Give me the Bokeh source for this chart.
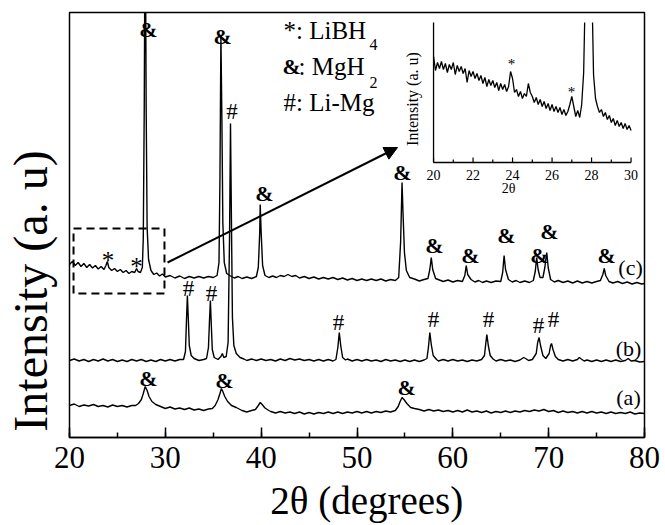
import numpy as np
from math import pi
from bokeh.plotting import figure
from bokeh.models import Range1d, SingleIntervalTicker, FixedTicker, Arrow, NormalHead
from bokeh.core.properties import value
from bokeh.embed import file_html
from bokeh.resources import INLINE

# ---------------- data (intensity in arbitrary units) -------------
curve_a = [
(20.0,32),(20.5,33.5),(21.0,31),(21.5,32.5),(22.0,31.5),(22.5,33),(23.0,31),(23.5,32),(24.0,30.5),(24.5,32.5),
(25.0,31),(25.5,32),(26.0,30.5),(26.5,32),(26.9,32),(27.2,34),(27.5,38),(27.7,44),(27.9,51),(28.1,47),(28.3,41),
(28.6,36),(29.0,33),(29.5,31),(30.0,29),(30.5,30.5),(31.0,28.5),(31.5,29.5),(32.0,28),(32.5,29.5),(33.0,27.5),
(33.5,28.5),(34.0,27),(34.5,28.5),(34.9,29),(35.2,32),(35.5,38),(35.7,44),(35.85,49),(36.0,46),(36.2,41),(36.5,36),
(36.9,32),(37.4,30),(38.0,27),(38.5,25.5),(39.0,27),(39.4,28),(39.7,32),(39.9,35),(40.1,33),(40.4,29.5),(40.8,27),
(41.0,26),(41.5,24.5),(42.0,26),(42.5,24.5),(43.0,25.5),(43.5,24),(44.0,25.5),(44.5,23.5),(45.0,25),(45.5,23.5),
(46.0,25),(46.5,24),(47.0,25.5),(47.5,24),(48.0,25.5),(48.5,24),(49.0,25.5),(49.5,24.5),(50.0,26),(50.5,24.5),
(51.0,26),(51.5,24.5),(52.0,26),(52.5,25),(53.0,26.5),(53.5,25.5),(54.0,27),(54.3,31),(54.5,36),(54.7,40),(54.9,38),
(55.2,34),(55.6,30),(56.0,29),(56.5,28),(57.0,26.5),(57.5,28),(58.0,26.5),(58.5,27.5),(59.0,26),(59.5,27),(60.0,25.5),
(60.5,27),(61.0,25.5),(61.5,27.5),(62.0,25.5),(62.5,26.5),(63.0,25),(63.5,26.5),(64.0,24.5),(64.5,26),(65.0,25),
(65.5,26.5),(66.0,25),(66.5,26.5),(67.0,25.5),(67.5,27),(68.0,26),(68.5,27.5),(69.0,26.5),(69.5,28),(70.0,26),
(70.5,27),(71.0,25),(71.5,26.5),(72.0,25),(72.5,26),(73.0,24.5),(73.5,26),(74.0,24.5),(74.5,26),(75.0,24.5),
(75.5,25.5),(76.0,24),(76.5,25.5),(77.0,24),(77.5,25),(78.0,24),(78.5,25.5),(79.0,23.5),(79.5,24.5),(80.0,24)]

curve_b = [
(20.0,77),(20.5,78.5),(21.0,76.5),(21.5,78),(22.0,76),(22.5,78),(23.0,76.5),(23.5,78.5),(24.0,76.5),(24.5,78),
(25.0,76),(25.5,77.5),(26.0,76),(26.5,78),(27.0,76.5),(27.5,78),(28.0,76),(28.5,77.5),(29.0,76),(29.5,78),
(30.0,76.5),(30.5,78),(31.0,76.5),(31.5,78),(31.9,78),(32.1,86),(32.2,115),(32.3,142),(32.4,118),(32.5,92),
(32.7,82),(33.0,79),(33.5,77),(34.0,78),(34.3,79),(34.5,90),(34.6,115),(34.7,137),(34.8,112),(34.9,88),(35.1,80),
(35.5,78),(35.8,81),(35.95,84),(36.1,80),(36.35,81),(36.55,95),(36.7,200),(36.8,314),(36.9,215),(37.0,120),
(37.15,92),(37.4,84),(37.8,80),(38.2,78.5),(38.5,77),(39.0,78.5),(39.5,77),(40.0,78.5),(40.5,77),(41.0,78),
(41.5,76.5),(42.0,78.5),(42.5,77),(43.0,79),(43.5,77.5),(44.0,78.5),(44.5,77),(45.0,78),(45.5,76.5),(46.0,78),
(46.5,76.5),(47.0,78),(47.5,76.5),(47.8,78),(48.0,90),(48.15,105),(48.3,92),(48.5,80),(48.8,77.5),(49.0,78.5),
(49.5,76.5),(50.0,78),(50.5,76.5),(51.0,78),(51.5,76.5),(52.0,77.5),(52.5,76),(53.0,78),(53.5,76.5),(54.0,77.5),
(54.5,76),(55.0,77.5),(55.5,76),(56.0,77.5),(56.5,76),(57.0,77.5),(57.3,79),(57.45,90),(57.6,105),(57.75,93),
(57.95,82),(58.3,78),(58.5,76.5),(59.0,78),(59.5,76.5),(60.0,78),(60.5,76.5),(61.0,77.5),(61.5,76),(62.0,77.5),
(62.5,76.5),(63.0,78),(63.3,82),(63.45,95),(63.55,103),(63.7,92),(63.9,82),(64.2,78.5),(64.5,76.5),(65.0,78),
(65.5,76.5),(66.0,77.5),(66.5,76),(67.0,77.5),(67.4,80),(67.6,79),(67.9,77),(68.3,78),(68.7,84),(68.85,95),
(69.0,100),(69.15,92),(69.4,82),(69.7,79),(70.05,84),(70.2,92),(70.3,94),(70.45,88),(70.7,81),(71.0,78),
(71.5,76.5),(72.0,78),(72.5,76.5),(73.0,78),(73.2,80),(73.4,78.5),(73.7,76.5),(74.0,77.5),(74.5,76),(75.0,77.5),
(75.5,76),(76.0,77.5),(76.5,76),(77.0,77.5),(77.5,76),(78.0,77),(78.3,79),(78.6,76.5),(79.0,77),(79.5,75.5),(80.0,76)]

curve_c = [
(20.0,173),(20.3,176),(20.6,172),(20.9,175),(21.2,171),(21.5,174),(21.8,170),(22.1,173),(22.4,169.5),(22.7,172),
(23.0,168.5),(23.3,171),(23.6,168),(23.8,172),(23.95,176),(24.1,170),(24.4,167),(24.7,169),(25.0,166),(25.3,168),
(25.6,165),(25.9,167),(26.2,164),(26.5,166),(26.8,165),(27.0,169),(27.15,166),(27.4,165),(27.6,170),(27.7,200),
(27.8,330),(27.85,440),(27.95,440),(28.0,330),(28.1,210),(28.25,178),(28.5,167),(28.8,163),(29.1,164.5),
(29.4,161.5),(29.7,163.5),(30.0,160.5),(30.5,162),(31.0,159.5),(31.5,161.5),(32.0,159),(32.5,161),(33.0,159.5),
(33.5,161),(34.0,159.5),(34.5,161),(35.0,160),(35.4,162),(35.6,175),(35.7,260),(35.8,402),(35.9,320),(36.0,215),
(36.15,175),(36.4,164),(36.8,161.5),(37.2,159.5),(37.6,161),(38.0,159),(38.5,160.5),(39.0,159),(39.5,161),
(39.7,170),(39.85,205),(39.9,233),(40.0,205),(40.15,172),(40.4,162),(40.8,160),(41.2,161.5),(41.6,160),(42.0,162),
(42.4,161),(42.8,163),(43.2,161),(43.6,162),(44.0,159.5),(44.5,161),(45.0,159),(45.5,160.5),(46.0,158.5),
(46.5,160),(47.0,158.5),(47.5,160),(48.0,158),(48.5,159.5),(49.0,157.5),(49.5,159),(50.0,157),(50.5,158.5),
(51.0,157),(51.5,158.5),(52.0,157),(52.5,158.5),(53.0,156.5),(53.5,158),(54.0,157),(54.35,160),(54.55,195),
(54.7,255),(54.8,225),(54.95,185),(55.15,167),(55.5,160),(56.0,158.5),(56.5,156.5),(57.0,158),(57.4,159),
(57.6,168),(57.75,180),(57.9,168),(58.2,159),(58.6,157.5),(59.0,156),(59.5,157.5),(60.0,155.5),(60.5,157),
(61.0,156),(61.25,162),(61.4,172),(61.55,163),(61.9,158),(62.3,155.5),(62.7,157),(63.1,155),(63.5,156.5),
(64.0,155),(64.5,156.5),(65.0,156),(65.2,165),(65.35,182),(65.5,168),(65.8,158),(66.2,155.5),(66.6,157),
(67.0,155),(67.5,156.5),(68.0,155),(68.4,157),(68.6,166),(68.75,180),(68.9,168),(69.1,160),(69.4,160),(69.6,170),
(69.8,185),(69.95,170),(70.2,158),(70.6,155.5),(71.0,157),(71.5,155),(72.0,156.5),(72.5,154.5),(73.0,156.5),
(73.5,154.5),(74.0,156),(74.5,154.5),(75.0,156),(75.4,157),(75.65,163),(75.8,169),(75.95,162),(76.3,156),
(76.7,154.5),(77.2,156),(77.7,154),(78.2,155.5),(78.7,153.5),(79.2,155),(79.7,153.5),(80.0,154)]

NaN = float("nan")
inset_curve = [
(20.0,106),(20.1,92),(20.2,100),(20.3,94),(20.4,101),(20.5,93),(20.6,99),(20.7,90),(20.8,98),(20.9,93),
(21.0,100),(21.1,88),(21.2,97),(21.3,91),(21.4,96),(21.5,89),(21.6,94),(21.7,80),(21.8,92),(21.9,86),
(22.0,91),(22.1,84),(22.2,89),(22.3,82),(22.4,87),(22.5,79),(22.6,85),(22.7,76),(22.8,83),(22.9,77),
(23.0,82),(23.1,75),(23.2,80),(23.3,72),(23.4,79),(23.5,73),(23.6,78),(23.7,71),(23.8,76),(23.9,91),
(24.0,84),(24.1,70),(24.2,73),(24.3,66),(24.4,71),(24.5,64),(24.6,69),(24.7,66),(24.8,79),(24.9,70),
(25.0,66),(25.1,60),(25.2,65),(25.3,58),(25.4,63),(25.5,56),(25.6,61),(25.7,54),(25.8,59),(25.9,52),
(26.0,58),(26.1,51),(26.2,56),(26.3,50),(26.4,55),(26.5,48),(26.6,53),(26.7,47),(26.8,51),(26.9,58),
(27.0,66),(27.1,56),(27.2,46),(27.3,52),(27.4,45),(27.5,58),(27.6,90),(27.65,140),(27.8,NaN),(27.9,NaN),
(28.05,140),(28.1,88),(28.2,64),(28.3,56),(28.4,50),(28.5,53),(28.6,46),(28.7,50),(28.8,43),(28.9,47),
(29.0,40),(29.1,44),(29.2,37),(29.3,42),(29.4,36),(29.5,40),(29.6,34),(29.7,39),(29.8,33),(29.9,37),(30.0,32)]

x_major_interval = 10
inset_major_ticks = [20, 22, 24, 26, 28, 30]
inset_minor_ticks = [21, 23, 25, 27, 29]

# peak markers
amp_x = [28.24, 35.97, 40.35, 54.75, 58.09, 61.84, 65.60, 69.04, 70.09, 76.04, 28.24, 36.17, 55.17]
amp_y = [408, 401, 244, 265, 192, 182, 202, 182, 206, 182, 59, 57, 50]
hash_x = [36.96, 32.42, 34.82, 48.07, 57.98, 63.72, 68.94, 70.51]
hash_y = [326, 149, 144, 115, 118, 118, 112, 118]
star_x = [24.02, 26.99]
star_y = [177, 171]
curve_names = ["(c)", "(b)", "(a)"]
curve_name_x = [78.54, 78.33, 78.33]
curve_name_y = [170, 89, 40]
inset_star_x = [23.95, 26.99]
inset_star_y = [99, 71]

NB = "\u00a0"
FONT = value("Liberation Serif")

p = figure(frame_width=575, frame_height=425, x_range=Range1d(20, 80), y_range=Range1d(0, 425),
           output_backend="svg", toolbar_location=None,
           min_border_left=69, min_border_right=21, min_border_top=12, min_border_bottom=88)
p.extra_x_ranges = {"ix": Range1d(1.57, 30.68)}
p.extra_y_ranges = {"iy": Range1d(-275, 150)}

p.grid.visible = False
p.outline_line_color = "black"
p.outline_line_width = 1.5
p.background_fill_color = "white"
p.border_fill_color = "white"

ax = p.xaxis[0]
ax.ticker = SingleIntervalTicker(interval=x_major_interval, num_minor_ticks=2)
ax.major_tick_in = 10
ax.major_tick_out = 0
ax.minor_tick_in = 5
ax.minor_tick_out = 0
ax.major_tick_line_width = 1.5
ax.minor_tick_line_width = 1.5
ax.axis_line_width = 1.5
ax.major_label_text_font = "Liberation Serif"
ax.major_label_text_font_size = "31px"
ax.major_label_text_color = "black"
ax.major_label_standoff = 9
ax.axis_label = NB * 2 + "2θ (degrees)"
ax.axis_label_text_font = "Liberation Serif"
ax.axis_label_text_font_size = "39px"
ax.axis_label_text_font_style = "normal"
ax.axis_label_text_color = "black"
ax.axis_label_standoff = 8

ay = p.yaxis[0]
ay.ticker = FixedTicker(ticks=[])
ay.axis_line_color = None
ay.major_tick_line_color = None
ay.minor_tick_line_color = None
ay.major_label_text_font_size = "0px"
ay.axis_label = "Intensity (a. u)" + NB * 11
ay.axis_label_text_font = "Liberation Serif"
ay.axis_label_text_font_size = "48px"
ay.axis_label_text_font_style = "normal"
ay.axis_label_text_color = "black"
ay.axis_label_standoff = 13

# curves
for cv in (curve_a, curve_b, curve_c):
    xs = [c[0] for c in cv]
    ys = [c[1] for c in cv]
    p.line(xs, ys, line_color="black", line_width=1.4)

txt = dict(text_font=FONT, text_align="center", text_baseline="middle", text_color="black")
p.text(x=amp_x, y=amp_y, text=["&"] * len(amp_x), text_font_size=value("22px"), text_font_style="bold", **txt)
p.text(x=hash_x, y=hash_y, text=["#"] * len(hash_x), text_font_size=value("23px"), **txt)
p.text(x=star_x, y=star_y, text=["*"] * len(star_x), text_font_size=value("25px"), **txt)
p.text(x=curve_name_x, y=curve_name_y, text=curve_names, text_font_size=value("22px"), **txt)

# legend text
leg = dict(text_font=FONT, text_align="left", text_baseline="middle", text_color="black")
p.text(x=[42.33], y=[407], text=["*: LiBH"], text_font_size=value("25px"), **leg)
p.text(x=[51.3], y=[393], text=["4"], text_font_size=value("16px"), **leg)
p.text(x=[42.23], y=[371], text=["&"], text_font_size=value("22px"), text_font_style="bold", **leg)
p.text(x=[43.9], y=[371], text=[": MgH"], text_font_size=value("25px"), **leg)
p.text(x=[51.3], y=[355], text=["2"], text_font_size=value("16px"), **leg)
p.text(x=[42.33], y=[335], text=["#: Li-Mg"], text_font_size=value("25px"), **leg)

# dashed zoom box and arrow
p.quad(left=[20.42], right=[29.91], bottom=[144], top=[209], fill_color=None,
       line_color="black", line_dash="8 5", line_width=2)
p.add_layout(Arrow(end=NormalHead(size=13, fill_color="black", line_color="black"),
                   x_start=30.23, y_start=175, x_end=54.23, y_end=290,
                   line_width=2, line_color="black"))

# inset
ik = dict(x_range_name="ix", y_range_name="iy")
ixs = np.array([c[0] for c in inset_curve], dtype=float)
iys = np.array([c[1] for c in inset_curve], dtype=float)
p.line(ixs, iys, line_color="black", line_width=1.3, **ik)
p.segment(x0=[20, 20], y0=[0, 0], x1=[20, 30], y1=[140, 0], line_color="black", line_width=1.3, **ik)
p.segment(x0=inset_major_ticks, y0=[0] * 6, x1=inset_major_ticks, y1=[5] * 6, line_color="black", line_width=1.2, **ik)
p.segment(x0=inset_minor_ticks, y0=[0] * 5, x1=inset_minor_ticks, y1=[3] * 5, line_color="black", line_width=1.2, **ik)
p.text(x=inset_major_ticks, y=[-12] * 6, text=[str(t) for t in inset_major_ticks], text_font=FONT,
       text_font_size=value("14px"), text_align="center", text_baseline="middle", text_color="black", **ik)
p.text(x=[23.8], y=[-26], text=["2θ"], text_font=FONT, text_font_size=value("14px"),
       text_align="center", text_baseline="middle", text_color="black", **ik)
p.text(x=[18.96], y=[63.5], text=["Intensity (a. u)"], angle=pi / 2, text_font=FONT,
       text_font_size=value("16px"), text_align="center", text_baseline="middle", text_color="black", **ik)
p.text(x=inset_star_x, y=inset_star_y, text=["*"] * 2, text_font=FONT, text_font_size=value("15px"),
       text_align="center", text_baseline="middle", text_color="black", **ik)

open("out.html", "w").write(file_html(p, INLINE))
